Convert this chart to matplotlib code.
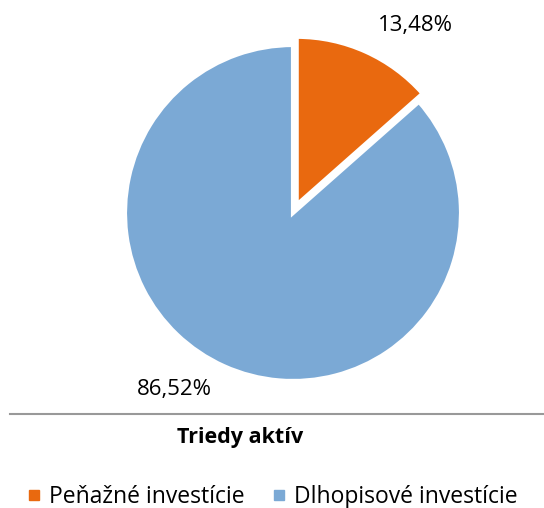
import matplotlib.pyplot as plt
from matplotlib.lines import Line2D

categories = ['Peňažné investície', 'Dlhopisové investície']
shares = [13.48, 86.52]
share_labels = ['13,48%', '86,52%']
colors = ['#E9690F', '#7BA9D5']
title = 'Triedy aktív'

plt.rcParams['font.family'] = ['Open Sans', 'DejaVu Sans']

W, H = 544, 508
fig = plt.figure(figsize=(W / 100, H / 100), dpi=100)
ax = fig.add_axes([0, 0, 1, 1])

cx, cy, r = 293, H - 213, 168
ax.pie(shares, colors=colors, startangle=90, counterclock=False,
       center=(cx, cy), radius=r, explode=[9, 0],
       wedgeprops=dict(edgecolor='white', linewidth=3), frame=True)
ax.set_xlim(0, W)
ax.set_ylim(0, H)
ax.set_aspect('equal')
ax.axis('off')

ax.text(415, H - 25, share_labels[0], ha='center', va='center', fontsize=16)
ax.text(174, H - 390, share_labels[1], ha='center', va='center', fontsize=16)

ax.add_line(Line2D([10, W], [H - 414, H - 414], color='#999999', lw=1.5))
ax.text(240, H - 438, title, ha='center', va='center', fontsize=15.5,
        fontweight='bold')

handles = [Line2D([0], [0], marker='s', color='w', markerfacecolor=c,
                  markeredgecolor=c, markersize=7) for c in colors]
fig.legend(handles, categories, loc='center', bbox_to_anchor=(0.5, 1 - 497 / H),
           ncol=2, frameon=False, fontsize=16.5, handlelength=0.6,
           handletextpad=0.35, columnspacing=1.2, borderaxespad=0)

fig.savefig('out.png', dpi=100)
